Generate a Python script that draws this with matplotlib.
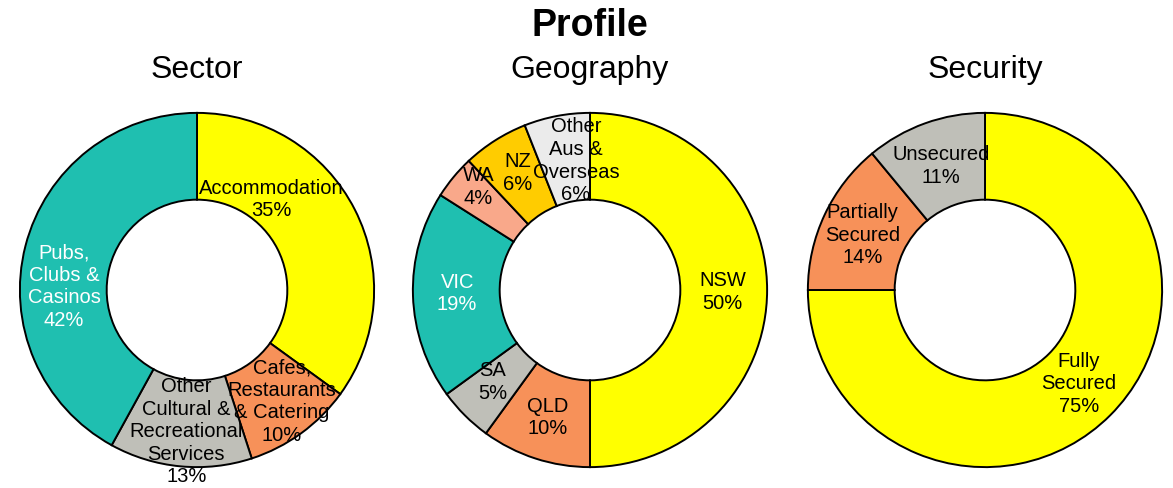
import matplotlib
matplotlib.use("Agg")
import matplotlib.pyplot as plt

plt.rcParams['font.family'] = ['Liberation Sans', 'DejaVu Sans']

# Sector split
sector_labels = ["Accommodation", "Cafes,\nRestaurants\n& Catering",
                 "Other\nCultural &\nRecreational\nServices", "Pubs,\nClubs &\nCasinos"]
sector_values = [35, 10, 13, 42]
sector_colors = ["#FFFF00", "#F79159", "#BFBFB8", "#1FBFB0"]
sector_text = ["black", "black", "black", "white"]

# Geography split
geo_labels = ["NSW", "QLD", "SA", "VIC", "WA", "NZ", "Other\nAus &\nOverseas"]
geo_values = [50, 10, 5, 19, 4, 6, 6]
geo_colors = ["#FFFF00", "#F79159", "#BFBFB8", "#1FBFB0", "#F9A88A", "#FFCC00", "#EBEBEB"]
geo_text = ["black", "black", "black", "white", "black", "black", "black"]

# Security split
sec_labels = ["Fully\nSecured", "Partially\nSecured", "Unsecured"]
sec_values = [75, 14, 11]
sec_colors = ["#FFFF00", "#F79159", "#BFBFB8"]
sec_text = ["black", "black", "black"]

# Label anchor points inside each ring (units of outer radius)
sector_pos = [(0.42, 0.51), (0.48, -0.63), (-0.06, -0.80), (-0.75, 0.02)]
geo_pos = [(0.75, -0.01), (-0.24, -0.72), (-0.55, -0.52), (-0.75, -0.02),
           (-0.63, 0.58), (-0.41, 0.66), (-0.08, 0.73)]
sec_pos = [(0.53, -0.53), (-0.69, 0.31), (-0.25, 0.70)]

W, H = 1173, 488
fig = plt.figure(figsize=(W / 100, H / 100), dpi=100)

R = 178
centers = [(197, 290), (590, 290), (985, 290)]
charts = [
    ("Sector", sector_labels, sector_values, sector_colors, sector_text, sector_pos),
    ("Geography", geo_labels, geo_values, geo_colors, geo_text, geo_pos),
    ("Security", sec_labels, sec_values, sec_colors, sec_text, sec_pos),
]

for (cx, cy), (title, labels, values, colors, tcols, pos) in zip(centers, charts):
    ax = fig.add_axes([(cx - R) / W, (H - cy - R) / H, 2 * R / W, 2 * R / H])
    ax.pie(values, colors=colors, startangle=90, counterclock=False, radius=1.0,
           wedgeprops=dict(width=0.49, edgecolor="black", linewidth=1.4))
    total = sum(values)
    for lab, v, tc, (x, y) in zip(labels, values, tcols, pos):
        ax.text(x, y, f"{lab}\n{round(100 * v / total)}%", ha="center", va="center",
                fontsize=14.5, color=tc, linespacing=1.24)
    ax.set_xlim(-1.005, 1.005)
    ax.set_ylim(-1.005, 1.005)
    ax.set_aspect("equal")
    ax.axis("off")
    fig.text(cx / W, 1 - 70 / H, title, ha="center", va="center", fontsize=23)

fig.text(590 / W, 1 - 26 / H, "Profile", ha="center", va="center",
         fontsize=27, fontweight="bold")

fig.savefig("out.png", dpi=100)
